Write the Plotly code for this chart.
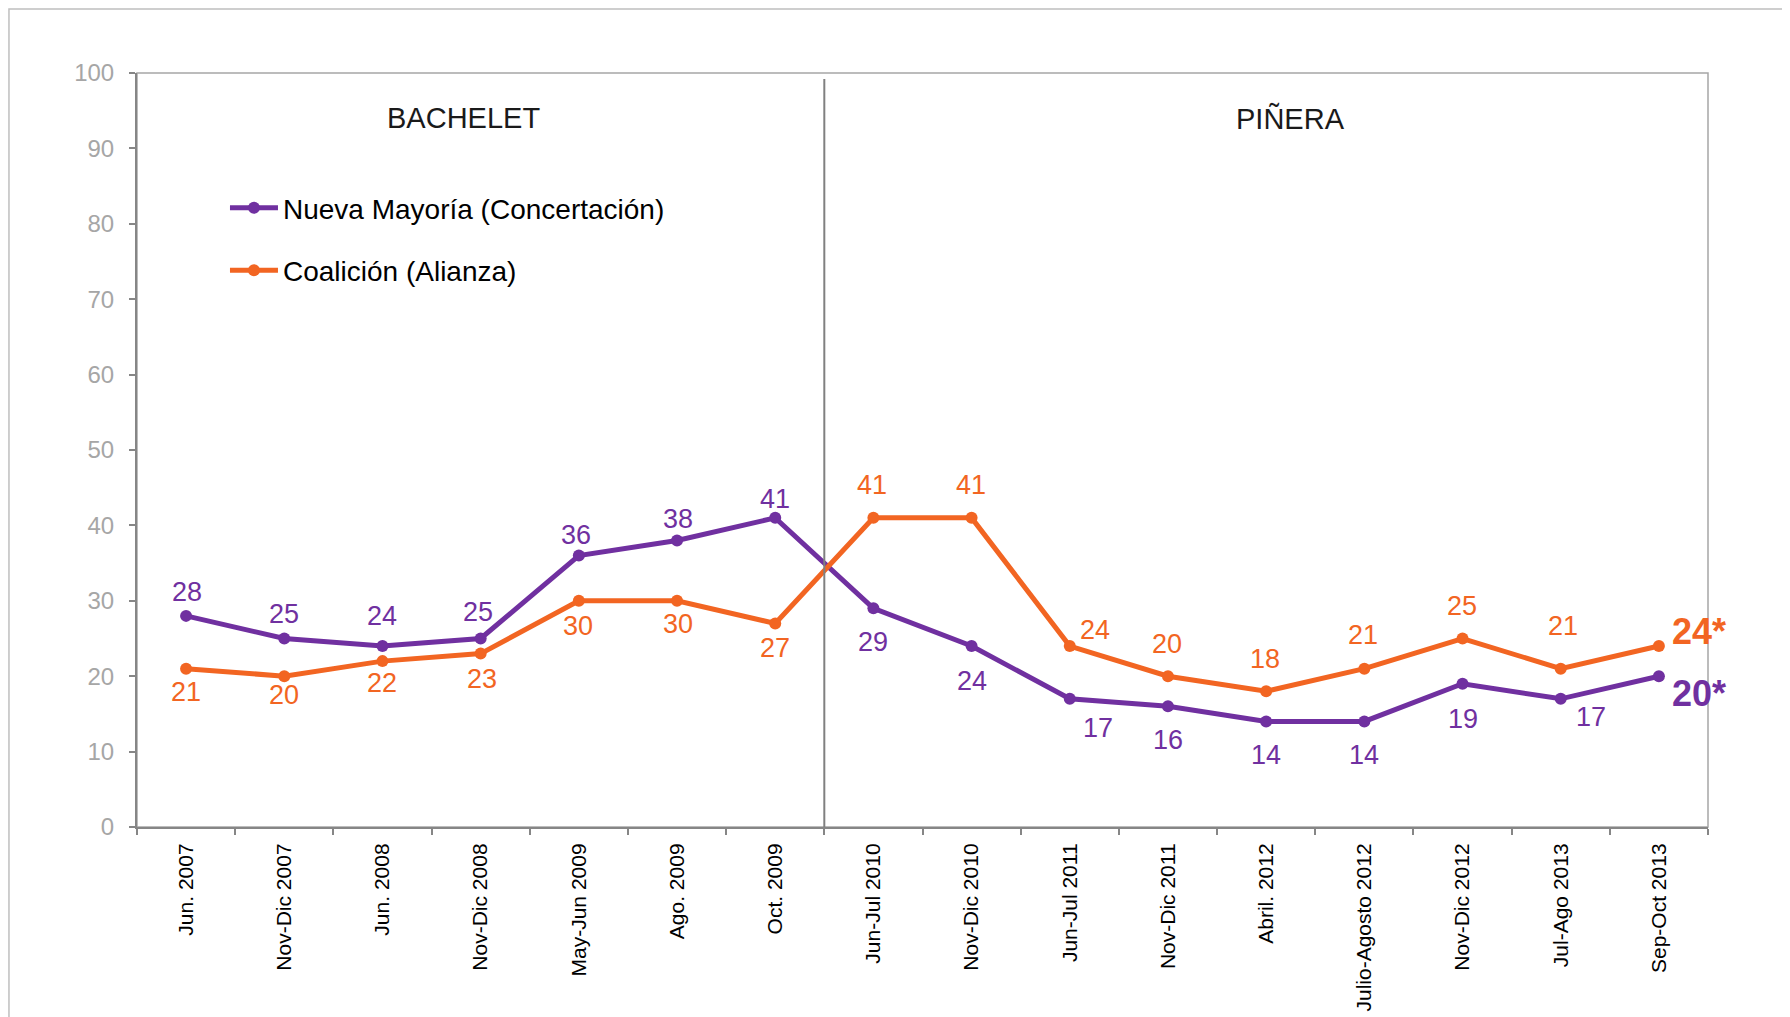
import plotly.graph_objects as go

# ---- data ----
categories = ["Jun. 2007", "Nov-Dic 2007", "Jun. 2008", "Nov-Dic 2008", "May-Jun 2009",
              "Ago. 2009", "Oct. 2009", "Jun-Jul 2010", "Nov-Dic 2010", "Jun-Jul 2011",
              "Nov-Dic 2011", "Abril. 2012", "Julio-Agosto 2012", "Nov-Dic 2012",
              "Jul-Ago 2013", "Sep-Oct 2013"]
nueva_mayoria = [28, 25, 24, 25, 36, 38, 41, 29, 24, 17, 16, 14, 14, 19, 17, 20]
coalicion = [21, 20, 22, 23, 30, 30, 27, 41, 41, 24, 20, 18, 21, 25, 21, 24]
series_names = ["Nueva Mayoría (Concertación)", "Coalición (Alianza)"]
period_labels = ["BACHELET", "PIÑERA"]
y_ticks = list(range(0, 101, 10))

# ---- style ----
PURPLE = "#7030A0"
ORANGE = "#F26522"
FONT = "Arial, Liberation Sans, sans-serif"

# label offsets (pixels) for each point except the last one
nm_dx = [1, 0, 0, -3, -3, 1, 0, 0, 0, 28, 0, 0, 0, 0, 30]
nm_dy = [24, 25, 30, 27, 21, 21, 19, -34, -35, -29, -34, -34, -34, -35, -18]
co_dx = [0, 0, 0, 1, -1, 1, 0, -1, -1, 25, -1, -1, -1, -1, 2]
co_dy = [-23, -19, -22, -25, -25, -23, -25, 33, 33, 16, 32, 32, 34, 33, 43]

fig = go.Figure()
for name, vals, col, grp in [(series_names[0], nueva_mayoria, PURPLE, "a"),
                             (series_names[1], coalicion, ORANGE, "b")]:
    fig.add_trace(go.Scatter(
        x=categories, y=vals, name=name, mode="lines+markers",
        line=dict(color=col, width=5), marker=dict(color=col, size=12),
        legendgroup=grp, hoverinfo="skip"))

annotations = []
for vals, col, dxs, dys, last_dy in [(nueva_mayoria, PURPLE, nm_dx, nm_dy, -17),
                                     (coalicion, ORANGE, co_dx, co_dy, 15)]:
    for i, v in enumerate(vals[:-1]):
        annotations.append(dict(
            x=categories[i], y=v, xref="x", yref="y", text=str(v), showarrow=False,
            xanchor="center", yanchor="middle", xshift=dxs[i], yshift=dys[i],
            font=dict(family=FONT, size=27, color=col)))
    annotations.append(dict(
        x=categories[-1], y=vals[-1], xref="x", yref="y", text=f"<b>{vals[-1]}*</b>",
        showarrow=False, xanchor="left", yanchor="middle", xshift=11, yshift=last_dy,
        font=dict(family=FONT, size=36, color=col)))

annotations.append(dict(x=0.208, y=0.94, xref="paper", yref="paper", text=period_labels[0],
                        showarrow=False, xanchor="center", yanchor="middle",
                        font=dict(family=FONT, size=29, color="#1a1a1a")))
annotations.append(dict(x=0.734, y=0.94, xref="paper", yref="paper", text=period_labels[1],
                        showarrow=False, xanchor="center", yanchor="middle",
                        font=dict(family=FONT, size=29, color="#1a1a1a")))

shapes = [
    # outer frame
    dict(type="rect", xref="paper", yref="paper", x0=-0.0815, x1=1.07, y0=-0.3, y1=1.085,
         line=dict(color="#BFBFBF", width=1.5), layer="below"),
    # plot border (top / right)
    dict(type="rect", xref="paper", yref="paper", x0=0, x1=1, y0=0, y1=1,
         line=dict(color="#A6A6A6", width=1.5), layer="below"),
    # period divider
    dict(type="line", xref="x", yref="y", x0=6.5, x1=6.5, y0=-0.9, y1=99.2,
         line=dict(color="#808080", width=2), layer="above"),
]

fig.update_layout(
    width=1790, height=1017,
    margin=dict(l=129, r=90, t=65, b=198),
    paper_bgcolor="white", plot_bgcolor="white",
    font=dict(family=FONT),
    showlegend=True,
    legend=dict(x=0.056, y=0.854, xanchor="left", yanchor="top",
                font=dict(family=FONT, size=28, color="#000000"),
                itemwidth=48,
                tracegroupgap=23, bgcolor="rgba(0,0,0,0)"),
    annotations=annotations,
    shapes=shapes,
    xaxis=dict(type="category", categoryorder="array", categoryarray=categories,
               range=[-0.5, len(categories) - 0.5], tickson="boundaries",
               ticks="outside", ticklen=6, tickwidth=1.5, tickcolor="#868686",
               showline=True, linecolor="#868686", linewidth=2,
               tickangle=-90, ticklabelstandoff=6,
               tickfont=dict(family=FONT, size=21, color="#000000"),
               showgrid=False, zeroline=False, fixedrange=True),
    yaxis=dict(range=[0, 100], tickvals=y_ticks, ticks="outside", ticklen=6,
               tickwidth=1.5, tickcolor="#868686",
               showline=True, linecolor="#868686", linewidth=2,
               ticklabelstandoff=10,
               tickfont=dict(family=FONT, size=24, color="#A6A6A6"),
               showgrid=False, zeroline=False, fixedrange=True),
)

fig.write_html("out.html")
